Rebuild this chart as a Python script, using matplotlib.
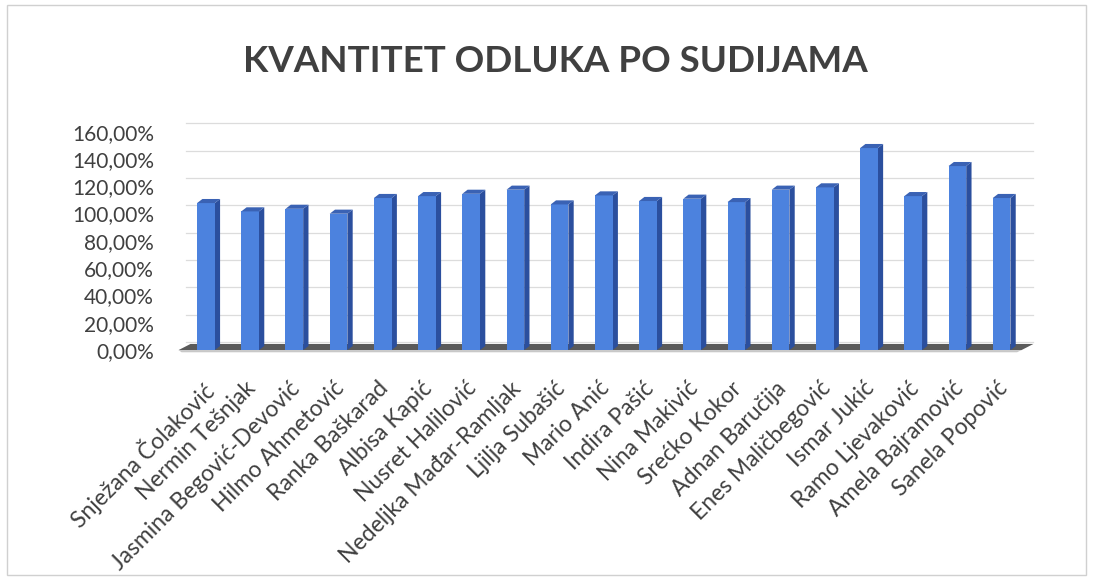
import matplotlib.pyplot as plt
from matplotlib.patches import Polygon, Rectangle
from matplotlib.transforms import ScaledTranslation

# data
judges = ["Snježana Čolaković", "Nermin Tešnjak", "Jasmina Begović-Devović",
          "Hilmo Ahmetović", "Ranka Baškarad", "Albisa Kapić", "Nusret Halilović",
          "Nedeljka Mađar-Ramljak", "Ljilja Subašić", "Mario Anić", "Indira Pašić",
          "Nina Makivić", "Srećko Kokor", "Adnan Baručija", "Enes Maličbegović",
          "Ismar Jukić", "Ramo Ljevaković", "Amela Bajramović", "Sanela Popović"]
values = [107.7, 101.6, 103.5, 99.9, 111.4, 112.8, 114.5, 117.5, 106.7, 113.3,
          109.2, 110.9, 108.4, 117.5, 119.2, 148.0, 112.8, 134.8, 111.4]
yticks = [0, 20, 40, 60, 80, 100, 120, 140, 160]

plt.rcParams['font.family'] = ['Lato', 'DejaVu Sans']
txt = '#404040'

fig = plt.figure(figsize=(10.93, 5.78), dpi=100)
ax = fig.add_axes([0.1601, 0.3754, 0.7866, 0.4204])
ax.set_xlim(-0.7, 18.75)
ax.set_ylim(-8, 170)

w = 0.4          # bar front width
dx, dy = 0.12, 3.0   # 3d depth in data units

# back wall gridlines
for v in yticks:
    ax.plot([-0.45, 18.7], [v + 6, v + 6], color='#dcdcdc', lw=0.9, zorder=0)

# floor
ax.add_patch(Polygon([(-0.62, 0), (18.45, 0), (18.72, 4.5), (-0.35, 4.5)],
                     closed=True, facecolor='#5a5a5a', edgecolor='none', zorder=1))
ax.add_patch(Polygon([(-0.62, 0), (18.45, 0), (18.35, -1.6), (-0.55, -1.6)],
                     closed=True, facecolor='#c8c8c8', edgecolor='none', zorder=1))

xs = list(range(len(values)))
ax.bar(xs, values, width=w, color='#4c82de', edgecolor='none', zorder=3)
for x, h in zip(xs, values):
    side = [(x + w/2, 0), (x + w/2 + dx, dy), (x + w/2 + dx, h + dy), (x + w/2, h)]
    top = [(x - w/2, h), (x + w/2, h), (x + w/2 + dx, h + dy), (x - w/2 + dx, h + dy)]
    ax.add_patch(Polygon(side, closed=True, facecolor='#2b4f9e', edgecolor='none', zorder=2))
    ax.add_patch(Polygon(top, closed=True, facecolor='#3a62b4', edgecolor='none', zorder=4))

for s in ax.spines.values():
    s.set_visible(False)

ax.set_yticks(yticks)
ax.set_yticklabels([f"{v},00%" for v in yticks], fontsize=15, color=txt)
ax.tick_params(axis='y', length=0, pad=15)

ax.set_xticks(xs)
ax.set_xticklabels(judges, rotation=45, ha='right', rotation_mode='anchor',
                   fontsize=16.5, color=txt)
ax.tick_params(axis='x', length=0, pad=12)
for lab in ax.get_xticklabels():
    lab.set_transform(lab.get_transform() + ScaledTranslation(-0.05, 0, fig.dpi_scale_trans))

fig.text(0.508, 0.893, "KVANTITET ODLUKA PO SUDIJAMA", ha='center', va='center',
         fontsize=26.5, fontweight='bold', color=txt)

# chart border
fig.add_artist(Rectangle((0.006, 0.006), 0.988, 0.985, transform=fig.transFigure,
                         fill=False, edgecolor='#d0d0d0', lw=1))

fig.savefig('out.png', dpi=100)
